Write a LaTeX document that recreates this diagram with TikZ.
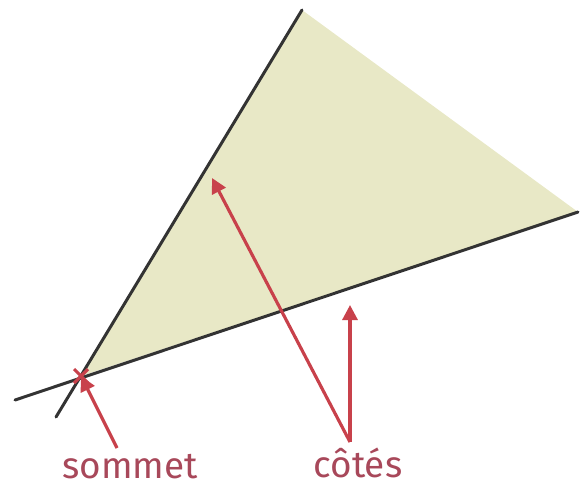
\documentclass[tikz,border=0pt]{standalone}
\usepackage{fontspec}
\setmainfont{Fira Sans}
\usetikzlibrary{arrows.meta, calc}
\definecolor{fondangle}{HTML}{E8E8C6}
\definecolor{trait}{HTML}{333333}
\definecolor{fleche}{HTML}{C8414B}
\definecolor{legende}{HTML}{A8485A}

\begin{document}
\begin{tikzpicture}[
    x=0.02cm, y=-0.02cm,
    cote/.style={draw=trait, line width=1.7pt, line cap=round},
    arr/.style={-{Triangle[length=3mm, width=3mm]}, draw=fleche, line width=1.8pt},
    label/.style={text=legende, font=\fontsize{21}{24}\selectfont, inner sep=0pt, anchor=base},
]
\useasboundingbox (0,0) rectangle (581,488);
% points of the angle
\coordinate (S) at (81,376);
\coordinate (A) at (302,10);
\coordinate (B) at (578,212);
\coordinate (A0) at (56,417);
\coordinate (B0) at (15,400);
% inside of the angle
\fill[fondangle] (S) -- (A) -- (B) -- cycle;
\draw[cote] (A0) -- (A);
\draw[cote] (B0) -- (B);
% vertex mark
\draw[fleche, line width=1.8pt] ($(S)+(-7,-7)$) -- ($(S)+(7,7)$)
    ($(S)+(-7,7)$) -- ($(S)+(7,-7)$);
% labels
\node[label] (sommet) at (130,478) {sommet};
\node[label] (cotes) at (358,477) {côtés};
\coordinate (p1) at (117,448);
\coordinate (p2) at (350,442);
\coordinate (t1) at (212,178);
\coordinate (t2) at (350,305);
\draw[arr] (p1) -- (S);
\draw[arr] (p2) -- (t1);
\draw[arr] (p2) -- (t2);
\end{tikzpicture}
\end{document}
